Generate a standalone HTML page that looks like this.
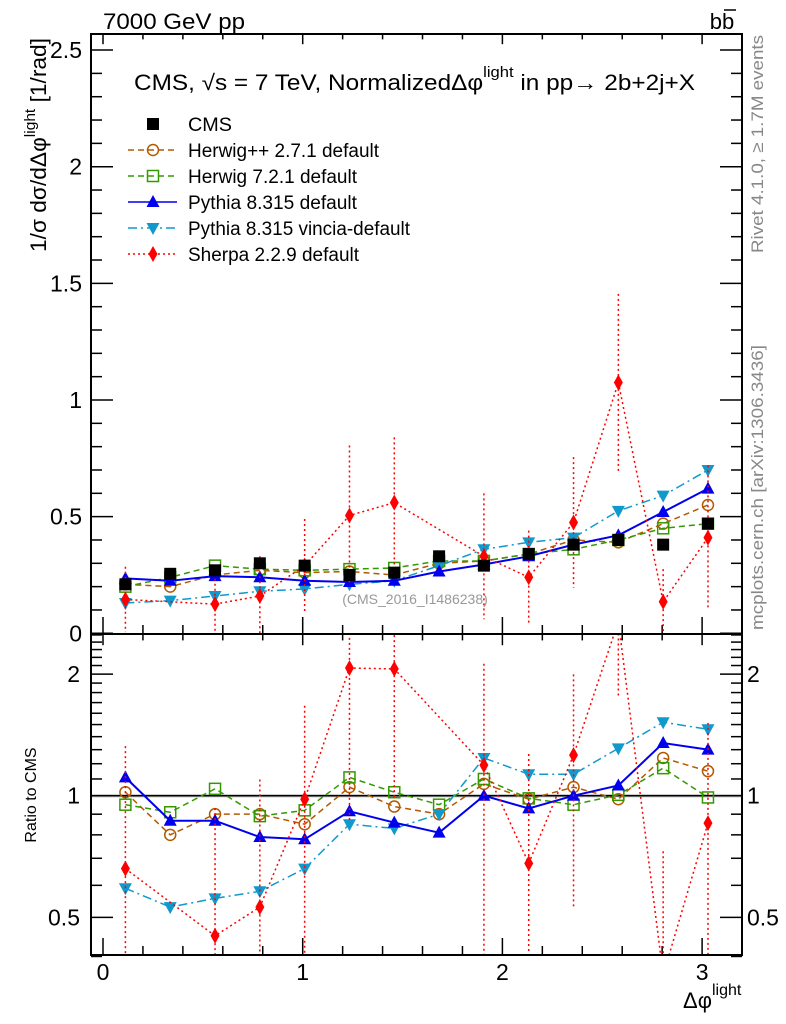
<!DOCTYPE html>
<html><head><meta charset="utf-8">
<style>
html,body{margin:0;padding:0;background:#fff;overflow:hidden;width:786px;height:1024px;}
svg{display:block;font-family:"Liberation Sans",sans-serif;}
</style></head>
<body>
<svg id="chart" width="786" height="1024" viewBox="0 0 786 1024" xmlns="http://www.w3.org/2000/svg">
<defs>
<clipPath id="clipMain"><rect x="91" y="34" width="651" height="600"/></clipPath>
<clipPath id="clipRatio"><rect x="91" y="635" width="651" height="320"/></clipPath>
</defs>
<rect x="0" y="0" width="786" height="1024" fill="#fff"/>
<text x="103" y="29" font-size="22" textLength="142" lengthAdjust="spacingAndGlyphs">7000 GeV pp</text>
<text x="722" y="29" font-size="22" text-anchor="middle">bb</text>
<line x1="724" y1="10" x2="736" y2="10" stroke="#000" stroke-width="1.5"/>
<text x="134" y="90" font-size="22" textLength="561" lengthAdjust="spacingAndGlyphs">CMS, √s = 7 TeV, NormalizedΔφ<tspan dy="-13" font-size="15">light</tspan><tspan dy="13"> in pp→  2b+2j+X</tspan></text>
<g id="legend"></g>
<text transform="translate(46,252) rotate(-90)" font-size="22" textLength="214" lengthAdjust="spacingAndGlyphs">1/σ dσ/dΔφ<tspan dy="-11" font-size="15">light</tspan><tspan dy="11"> [1/rad]</tspan></text>
<text transform="translate(763,253) rotate(-90)" font-size="17" fill="#888" textLength="218" lengthAdjust="spacingAndGlyphs">Rivet 4.1.0, ≥ 1.7M events</text>
<text transform="translate(763,630) rotate(-90)" font-size="17" fill="#888" textLength="285" lengthAdjust="spacingAndGlyphs">mcplots.cern.ch [arXiv:1306.3436]</text>
<text x="415" y="604" font-size="14" fill="#999" text-anchor="middle">(CMS_2016_I1486238)</text>
<text transform="translate(36,795) rotate(-90)" font-size="16" text-anchor="middle">Ratio to CMS</text>
<text x="683" y="1008" font-size="22">Δφ<tspan dy="-13" font-size="16">light</tspan></text>
<g id="axes"></g>
<g id="series-main" clip-path="url(#clipMain)"></g>
<g id="series-ratio" clip-path="url(#clipRatio)"></g>
<rect x="91" y="34" width="651" height="600" fill="none" stroke="#000" stroke-width="2"/>
<rect x="91" y="634" width="651" height="321" fill="none" stroke="#000" stroke-width="2"/>
</svg>
<script>
const nBins = 14;
const cms      = [0.21,0.255,0.27,0.30,0.29,0.25,0.26,0.33,0.29,0.34,0.38,0.40,0.38,0.47];
const herwigpp = [0.21,0.20,0.25,0.27,0.26,0.265,0.25,0.30,0.31,0.34,0.40,0.39,0.47,0.55];
const herwig7  = [0.20,0.24,0.29,0.275,0.27,0.275,0.28,0.31,0.31,0.34,0.36,0.40,0.45,0.47];
const pythia   = [0.235,0.225,0.245,0.24,0.225,0.22,0.225,0.265,0.295,0.33,0.38,0.42,0.52,0.62];
const vincia   = [0.13,0.14,0.16,0.18,0.19,0.21,0.225,0.29,0.36,0.39,0.41,0.525,0.59,0.70];
const sherpa   = [0.145,null,0.125,0.16,0.29,0.505,0.56,null,0.33,0.24,0.475,1.075,0.135,0.41];
const sherpaErr= [0.14,0,0.13,0.17,0.2,0.3,0.28,0,0.27,0.2,0.28,0.38,0.14,0.31];
const rHerwigpp= [1.02,0.80,0.90,0.90,0.85,1.05,0.94,0.90,1.07,0.98,1.05,0.98,1.24,1.15];
const rHerwig7 = [0.95,0.91,1.04,0.89,0.92,1.11,1.02,0.95,1.10,0.985,0.95,1.005,1.17,0.99];
const rPythia  = [1.11,0.867,0.867,0.79,0.78,0.915,0.858,0.81,1.0,0.93,1.0,1.06,1.35,1.30];
const rVincia  = [0.59,0.53,0.557,0.58,0.66,0.85,0.83,0.90,1.24,1.13,1.13,1.31,1.52,1.46];
const rSherpa  = [0.66,null,0.45,0.53,0.98,2.07,2.06,null,1.19,0.68,1.26,2.7,0.36,0.855];
const xTicks = ["0","1","2","3"];
const yTicks = ["0","0.5","1","1.5","2","2.5"];
const rTicks = ["0.5","1","2"];

const NS="http://www.w3.org/2000/svg";
const X = v => 103 + v*199.7;
const Y = v => 633.3 - v*233.3;
const R = v => 795.7 - Math.log10(v)*404;
const binX = i => X((i+0.5)*Math.PI/nBins);
function mk(tag, attrs, parent){const e=document.createElementNS(NS,tag);for(const k in attrs)e.setAttribute(k,attrs[k]);parent.appendChild(e);return e;}
const axes=document.getElementById('axes');

for(let v=0; v<=3.2001; v+=0.2){
  const major=Math.abs(v-Math.round(v))<1e-6;
  const L=major?17:9;
  mk('line',{x1:X(v),x2:X(v),y1:634,y2:634-L,stroke:'#000','stroke-width':1.5},axes);
  mk('line',{x1:X(v),x2:X(v),y1:34,y2:34+L*0.6,stroke:'#000','stroke-width':1.5},axes);
  mk('line',{x1:X(v),x2:X(v),y1:955,y2:955-L,stroke:'#000','stroke-width':1.5},axes);
  mk('line',{x1:X(v),x2:X(v),y1:635,y2:635+L*0.6,stroke:'#000','stroke-width':1.5},axes);
}
xTicks.forEach(t=>{
  const e=mk('text',{x:X(+t),y:980,'font-size':23,'text-anchor':'middle'},axes);
  e.textContent=t;
  
  
});
for(let k=0;k<=25;k++){
  const v=k/10, major=k%5===0, L=major?22:11;
  mk('line',{x1:91,x2:91+L,y1:Y(v),y2:Y(v),stroke:'#000','stroke-width':1.5},axes);
  mk('line',{x1:742,x2:742-L,y1:Y(v),y2:Y(v),stroke:'#000','stroke-width':1.5},axes);
}
yTicks.forEach(t=>{
  const e=mk('text',{x:82,y:Y(+t)+8,'font-size':23,'text-anchor':'end'},axes);
  e.textContent=t;
  
  
});
for(let k=4;k<=25;k++){
  const v=k/10, major=(k===5||k===10||k===20), L=major?22:11;
  mk('line',{x1:91,x2:91+L,y1:R(v),y2:R(v),stroke:'#000','stroke-width':1.5},axes);
  mk('line',{x1:742,x2:742-L,y1:R(v),y2:R(v),stroke:'#000','stroke-width':1.5},axes);
}
rTicks.forEach(t=>{
  const a=mk('text',{x:80,y:R(+t)+8,'font-size':23,'text-anchor':'end'},axes);
  a.textContent=t;
  
  
  const b=mk('text',{x:747,y:R(+t)+8,'font-size':23},axes);
  b.textContent=t;
  
  
});
mk('rect',{x:91,y:R(1.01),width:651,height:R(0.99)-R(1.01),fill:'#ccc'},axes);
const one=mk('line',{x1:91,x2:742,y1:R(1),y2:R(1),stroke:'#000','stroke-width':1.5},axes);



function marker(g,type,x,y,color){
  if(type==='sq') return mk('rect',{x:x-6,y:y-6,width:12,height:12,fill:'#000'},g);
  if(type==='osq') return mk('rect',{x:x-5.5,y:y-5.5,width:11,height:11,fill:'none',stroke:color,'stroke-width':1.5},g);
  if(type==='oc') return mk('circle',{cx:x,cy:y,r:5.5,fill:'none',stroke:color,'stroke-width':1.5},g);
  if(type==='tu') return mk('polygon',{points:`${x-6.5},${y+5} ${x+6.5},${y+5} ${x},${y-7}`,fill:color},g);
  if(type==='td') return mk('polygon',{points:`${x-6.5},${y-5} ${x+6.5},${y-5} ${x},${y+7}`,fill:color},g);
  if(type==='dm') return mk('polygon',{points:`${x},${y-8} ${x+4.5},${y} ${x},${y+8} ${x-4.5},${y}`,fill:color},g);
}
const styles={
  herwigpp:{color:'#b35900',dash:'6,4',m:'oc',name:'Herwig++ 2.7.1 default'},
  herwig7:{color:'#339900',dash:'6,4',m:'osq',name:'Herwig 7.2.1 default'},
  pythia:{color:'#0000ee',dash:'',m:'tu',name:'Pythia 8.315 default'},
  vincia:{color:'#1199cc',dash:'9,4,2,4',m:'td',name:'Pythia 8.315 vincia-default'},
  sherpa:{color:'#ff0000',dash:'2,3',m:'dm',name:'Sherpa 2.2.9 default'}
};
function drawSeries(parentId,key,vals,mapY,errs,errScale){
  const st=styles[key];
  const g=mk('g',{},document.getElementById(parentId));
  
  
  const pts=[];
  vals.forEach((v,i)=>{ if(v!==null) pts.push([binX(i),mapY(v)]); });
  const ln=mk('polyline',{points:pts.map(p=>p.join(',')).join(' '),fill:'none',stroke:st.color,'stroke-width':key==='pythia'?2:1.5,'stroke-dasharray':st.dash},g);
  
  
  vals.forEach((v,i)=>{
    if(v===null) return;
    if(errs && errs[i]>0){
      const e=errs[i]*(errScale?errScale[i]:1);
      const lo=Math.max(v-e,0.001);
      mk('line',{x1:binX(i),x2:binX(i),y1:mapY(v+e),y2:mapY(lo),stroke:st.color,'stroke-width':1.5,'stroke-dasharray':'2,3'},g);
    }
    const m=marker(g,st.m,binX(i),mapY(v),st.color);
    
    
  });
}
const invCms=cms.map(c=>1/c);
drawSeries('series-main','herwigpp',herwigpp,Y);
drawSeries('series-main','herwig7',herwig7,Y);
drawSeries('series-main','vincia',vincia,Y);
drawSeries('series-main','pythia',pythia,Y);
drawSeries('series-main','sherpa',sherpa,Y,sherpaErr);
const cg=mk('g',{},document.getElementById('series-main'));


cms.forEach((v,i)=>{
  const m=marker(cg,'sq',binX(i),Y(v),'#000');
  
  
});
drawSeries('series-ratio','herwigpp',rHerwigpp,R);
drawSeries('series-ratio','herwig7',rHerwig7,R);
drawSeries('series-ratio','vincia',rVincia,R);
drawSeries('series-ratio','pythia',rPythia,R);
drawSeries('series-ratio','sherpa',rSherpa,R,sherpaErr,invCms);

const lg=document.getElementById('legend');
const legRows=[['cms'],['herwigpp'],['herwig7'],['pythia'],['vincia'],['sherpa']];
const legWidths={cms:44,herwigpp:191,herwig7:169,pythia:169,vincia:222,sherpa:171};
legRows.forEach((r,k)=>{
  const y=124+k*26;
  const g=mk('g',{},lg);
  
  
  let label;
  if(r[0]==='cms'){ marker(g,'sq',153,y,'#000'); label='CMS'; }
  else{
    const st=styles[r[0]];
    mk('line',{x1:128,x2:177,y1:y,y2:y,stroke:st.color,'stroke-width':1.5,'stroke-dasharray':st.dash},g);
    marker(g,st.m,153,y,st.color);
    label=st.name;
  }
  const t=mk('text',{x:188,y:y+7,'font-size':19,textLength:legWidths[r[0]],lengthAdjust:'spacingAndGlyphs'},g);
  t.textContent=label;
});
</script>
</body></html>
